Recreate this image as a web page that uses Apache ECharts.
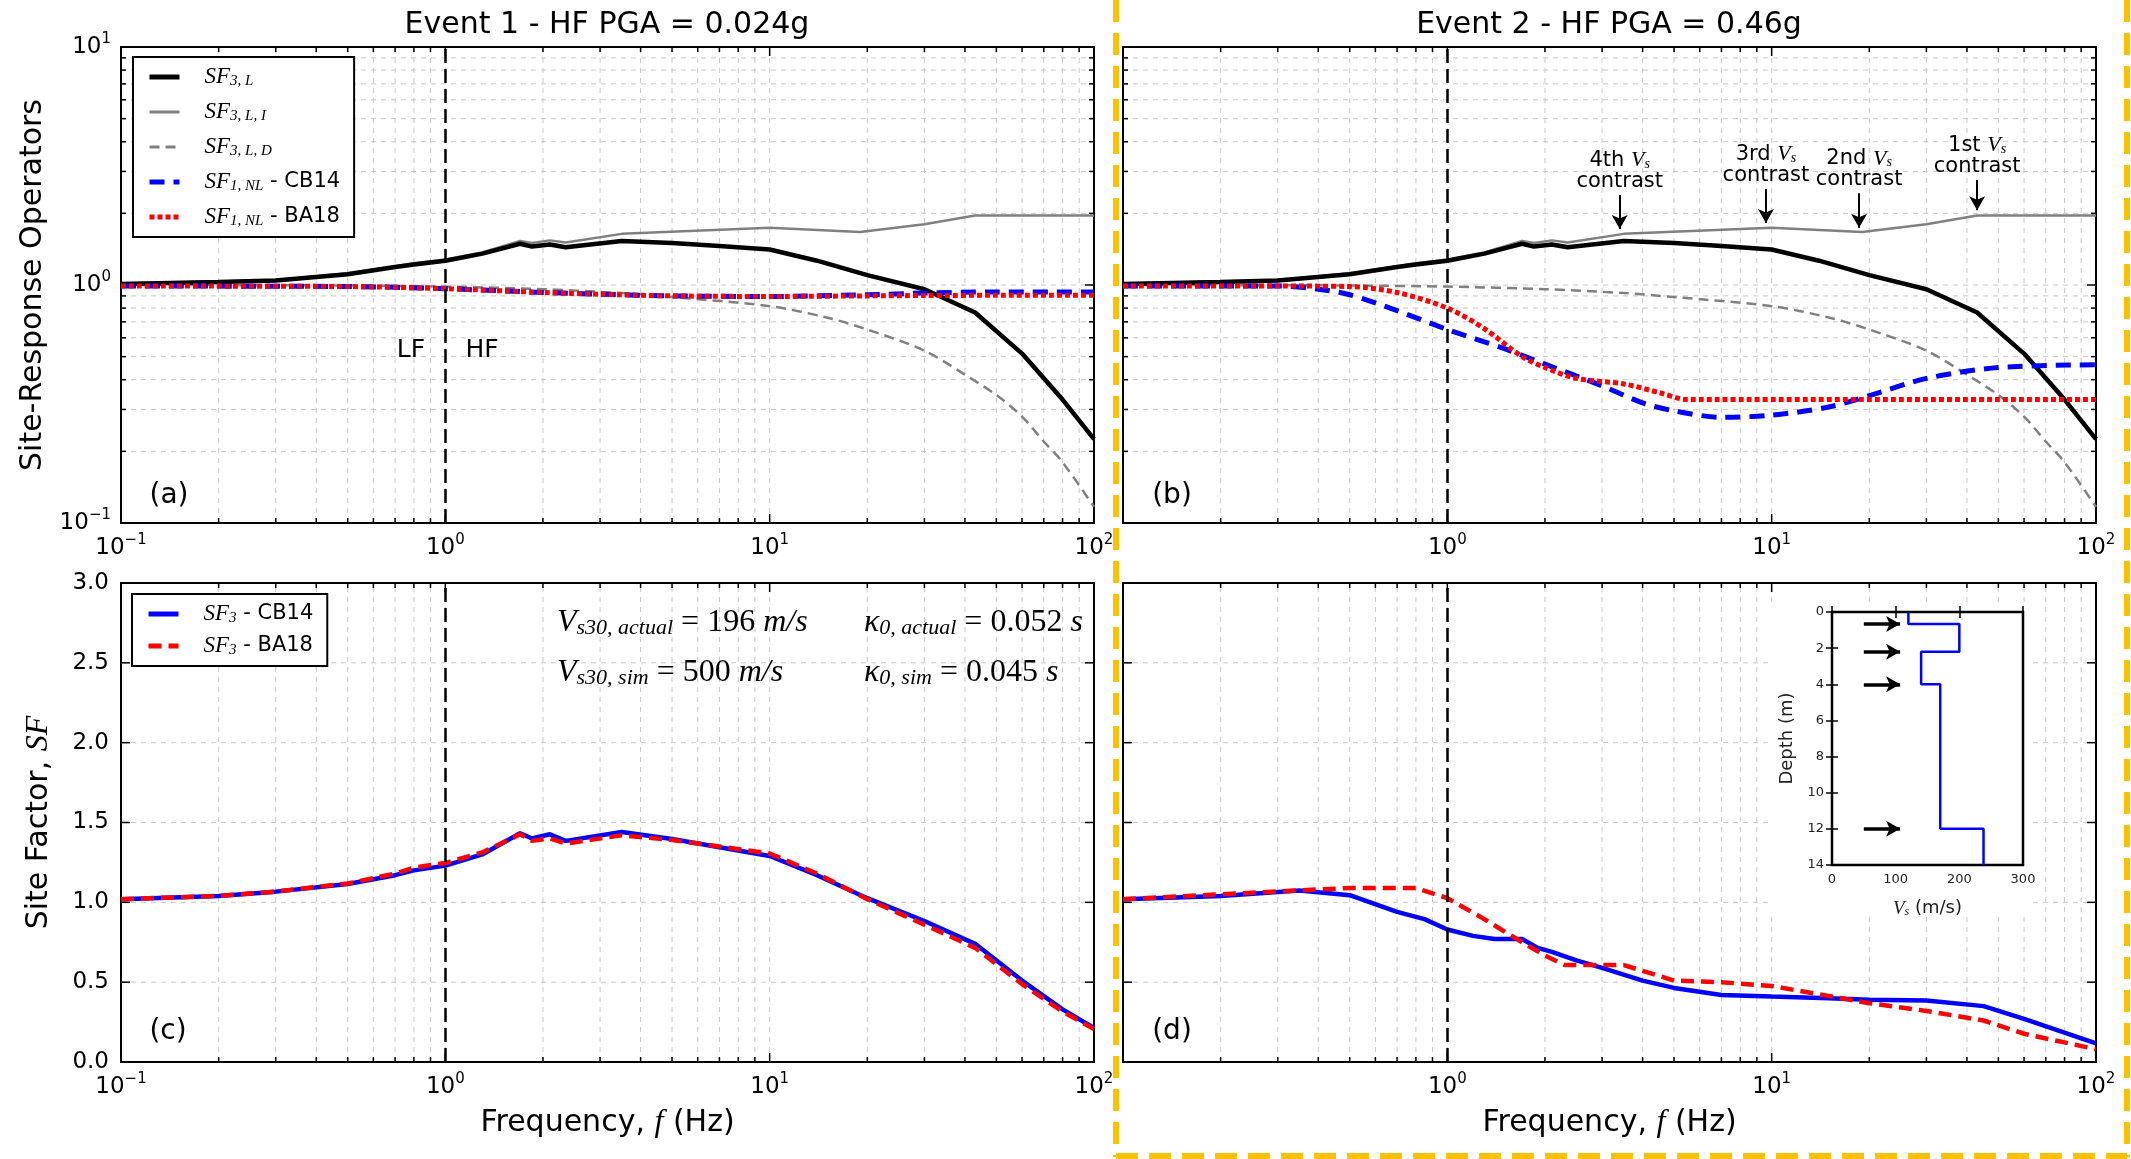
<!DOCTYPE html>
<html>
<head>
<meta charset="utf-8">
<title>Site-response operators</title>
<script src="https://cdn.jsdelivr.net/npm/echarts@6/dist/echarts.min.js"></script>
<style>
html, body { margin: 0; padding: 0; background: #fff; }
#main { width: 2131px; height: 1159px; }
</style>
</head>
<body>
<div id="main"></div>
<script>
// ---- values ----
// linear site operators (same in both events)
var fL = [0.1, 0.2, 0.3, 0.5, 0.7, 0.8, 1.0, 1.3, 1.7, 1.85, 2.1, 2.35, 3.5, 5, 7, 10, 14, 20, 30, 43, 60, 80, 100];
var sf3L = [1.01, 1.03, 1.045, 1.11, 1.19, 1.22, 1.265, 1.355, 1.49, 1.45, 1.48, 1.44, 1.53, 1.50, 1.46, 1.41, 1.265, 1.10, 0.96, 0.766, 0.515, 0.33, 0.225];
var fI = [0.1, 0.2, 0.3, 0.5, 0.7, 0.8, 1.0, 1.3, 1.7, 1.85, 2.1, 2.35, 3.5, 10, 19, 30, 43, 100];
var sf3LI = [1.015, 1.035, 1.05, 1.12, 1.2, 1.235, 1.28, 1.37, 1.53, 1.5, 1.54, 1.51, 1.64, 1.74, 1.67, 1.80, 1.96, 1.96];
var fD = [0.1, 0.3, 0.5, 1, 2, 3.5, 5, 10, 15, 20, 30, 40, 50, 60, 70, 80, 100];
var sf3LD = [1.0, 0.998, 0.995, 0.985, 0.96, 0.925, 0.89, 0.815, 0.73, 0.65, 0.53, 0.42, 0.345, 0.28, 0.22, 0.18, 0.117];

// nonlinear operators, event 1
var fN1 = [0.1, 0.5, 1, 2, 3, 5, 10, 20, 30, 50, 100];
var cb14Nl1 = [0.99, 0.985, 0.965, 0.93, 0.915, 0.90, 0.895, 0.91, 0.925, 0.935, 0.935];
var ba18Nl1 = [0.99, 0.985, 0.965, 0.93, 0.915, 0.90, 0.895, 0.90, 0.903, 0.905, 0.905];

// nonlinear operators, event 2
var fCB2 = [0.1, 0.2, 0.3, 0.4, 0.5, 0.7, 1.0, 1.5, 2, 3, 4, 5, 7, 10, 15, 20, 30, 50, 100];
var cb14Nl2 = [0.99, 0.99, 0.99, 0.96, 0.91, 0.78, 0.65, 0.54, 0.465, 0.377, 0.32, 0.296, 0.278, 0.284, 0.307, 0.343, 0.405, 0.45, 0.462];
var fBA2 = [0.1, 0.3, 0.5, 0.7, 1.0, 1.3, 1.7, 2, 2.5, 3.5, 4.5, 5.5, 100];
var ba18Nl2 = [0.99, 0.99, 0.985, 0.93, 0.80, 0.656, 0.50, 0.45, 0.405, 0.384, 0.353, 0.33, 0.33];

// site factors
var fC = [0.1, 0.2, 0.3, 0.5, 0.7, 0.8, 1.0, 1.3, 1.7, 1.85, 2.1, 2.35, 3.5, 5, 7, 10, 14, 20, 30, 43, 60, 80, 100];
var sfCB1 = [1.02, 1.04, 1.067, 1.115, 1.17, 1.20, 1.23, 1.30, 1.433, 1.40, 1.426, 1.385, 1.44, 1.397, 1.345, 1.29, 1.17, 1.026, 0.883, 0.74, 0.51, 0.33, 0.213];
var sfBA1 = [1.02, 1.04, 1.067, 1.118, 1.18, 1.218, 1.246, 1.313, 1.426, 1.385, 1.40, 1.368, 1.42, 1.39, 1.35, 1.306, 1.18, 1.02, 0.86, 0.715, 0.488, 0.316, 0.206];
var fDb = [0.1, 0.2, 0.35, 0.5, 0.7, 0.85, 1.0, 1.2, 1.4, 1.7, 1.9, 2.1, 2.5, 3, 4, 5, 7, 10, 15, 20, 30, 45, 60, 100];
var sfCB2 = [1.02, 1.04, 1.074, 1.045, 0.94, 0.895, 0.83, 0.79, 0.77, 0.77, 0.715, 0.69, 0.636, 0.59, 0.51, 0.464, 0.42, 0.41, 0.40, 0.39, 0.385, 0.35, 0.27, 0.117];
var fDr = [0.1, 0.35, 0.5, 0.8, 1.0, 1.3, 1.7, 2.0, 2.3, 3.5, 5, 7, 10, 20, 30, 45, 60, 100];
var sfBA2 = [1.02, 1.075, 1.09, 1.09, 1.026, 0.895, 0.75, 0.667, 0.607, 0.607, 0.51, 0.50, 0.476, 0.368, 0.32, 0.26, 0.177, 0.08];

// Vs profile (inset)
var layerTops = [0, 0.66, 2.2, 4, 12];
var layerBots = [0.66, 2.2, 4, 12, 14];
var layerVs = [120, 200, 140, 170, 238];
var arrowDepth = [0.66, 2.2, 4, 12];
var arrowFrom = 50, arrowTo = 107;

// Vs contrast annotations (panel b)
var contrastName = ['4th', '3rd', '2nd', '1st'];
var contrastF = [3.4, 9.6, 18.6, 43];
var contrastTail = [2.39, 2.53, 2.43, 2.76];
var contrastTip = [1.72, 1.82, 1.74, 2.06];

// ticks
var xMajor = [0.1, 1, 10, 100];
var xMinor = [0.2, 0.3, 0.4, 0.5, 0.6, 0.7, 0.8, 0.9, 2, 3, 4, 5, 6, 7, 8, 9, 20, 30, 40, 50, 60, 70, 80, 90];
var yLogMajor = [0.1, 1, 10];
var yLogMinor = [0.2, 0.3, 0.4, 0.5, 0.6, 0.7, 0.8, 0.9, 2, 3, 4, 5, 6, 7, 8, 9];
var yLinMajor = [0, 0.5, 1, 1.5, 2, 2.5, 3];

var SANS = '"DejaVu Sans"';
var SERIF = '"Liberation Serif"';

function pairs(f, v) {
  return f.map(function (x, i) { return [x, v[i]]; });
}

function line(name, idx, f, v, color, width, dash) {
  return {
    name: name, type: 'line', xAxisIndex: idx, yAxisIndex: idx,
    data: pairs(f, v), symbol: 'none', z: 3,
    lineStyle: { color: color, width: width, type: dash || 'solid' },
    itemStyle: { color: color }
  };
}

// grid lines + inside ticks on all four sides
function ticks(idx, dir, vals, major, xr, yr) {
  var lo = dir === 'x' ? xr[0] : yr[0], hi = dir === 'x' ? xr[1] : yr[1];
  return {
    type: 'custom', xAxisIndex: idx, yAxisIndex: idx, z: 1, silent: true,
    data: vals.map(function (v) { return dir === 'x' ? [v, yr[0]] : [xr[0], v]; }),
    encode: { x: 0, y: 1 },
    renderItem: function (params, api) {
      var v = api.value(dir === 'x' ? 0 : 1);
      if (v === lo || v === hi) return null;
      var a = dir === 'x' ? api.coord([v, yr[0]]) : api.coord([xr[0], v]);
      var b = dir === 'x' ? api.coord([v, yr[1]]) : api.coord([xr[1], v]);
      var L = major ? 9 : 5;
      var tk = { stroke: '#000', lineWidth: 1.5 };
      var kids = [{ type: 'line', shape: { x1: a[0], y1: a[1], x2: b[0], y2: b[1] },
        style: { stroke: '#c8c8c8', lineWidth: 1, lineDash: [5, 5] } }];
      if (dir === 'x') {
        kids.push({ type: 'line', shape: { x1: a[0], y1: a[1], x2: a[0], y2: a[1] - L }, style: tk });
        kids.push({ type: 'line', shape: { x1: b[0], y1: b[1], x2: b[0], y2: b[1] + L }, style: tk });
      } else {
        kids.push({ type: 'line', shape: { x1: a[0], y1: a[1], x2: a[0] + L, y2: a[1] }, style: tk });
        kids.push({ type: 'line', shape: { x1: b[0], y1: b[1], x2: b[0] - L, y2: b[1] }, style: tk });
      }
      return { type: 'group', children: kids };
    }
  };
}

function logLabel(v) {
  var e = Math.round(Math.log(v) / Math.LN10);
  return '{b|10}{p|' + (e < 0 ? '\u2212' + (-e) : e) + '}';
}
var logRich = {
  b: { fontFamily: SANS, fontSize: 23, lineHeight: 30, color: '#000' },
  p: { fontFamily: SANS, fontSize: 15, lineHeight: 15, verticalAlign: 'top', color: '#000' }
};

var mathRich = {
  t: { fontFamily: SANS, fontSize: 21, color: '#000' },
  m: { fontFamily: SERIF, fontStyle: 'italic', fontSize: 23, color: '#000' },
  s: { fontFamily: SERIF, fontStyle: 'italic', fontSize: 15, verticalAlign: 'bottom', lineHeight: 14, color: '#000' },
  g: { width: 20 }
};
var legendText = {
  'SF3L': '{g|}{m|SF}{s|3, L}',
  'SF3LI': '{g|}{m|SF}{s|3, L, I}',
  'SF3LD': '{g|}{m|SF}{s|3, L, D}',
  'CB14nl': '{g|}{m|SF}{s|1, NL}{t| - CB14}',
  'BA18nl': '{g|}{m|SF}{s|1, NL}{t| - BA18}',
  'CB14sf': '{g|}{m|SF}{s|3}{t| - CB14}',
  'BA18sf': '{g|}{m|SF}{s|3}{t| - BA18}'
};

var grids = [
  { left: 121, top: 47, width: 973, height: 476 },
  { left: 1123, top: 47, width: 973, height: 476 },
  { left: 121, top: 583, width: 973, height: 479 },
  { left: 1123, top: 583, width: 973, height: 479 },
  { left: 1832, top: 612, width: 191, height: 253 }
];
grids.forEach(function (g, i) {
  g.show = true; g.borderColor = '#000'; g.borderWidth = 2;
  g.backgroundColor = 'transparent';
  if (i === 4) { g.z = 6; g.borderWidth = 2.5; }
});

var xAxes = [0, 1, 2, 3].map(function (i) {
  var ax = {
    type: 'log', logBase: 10, min: 0.1, max: 100, gridIndex: i,
    axisLine: { show: false }, axisTick: { show: false }, splitLine: { show: false },
    axisLabel: { formatter: logLabel, rich: logRich, margin: 10, showMinLabel: i % 2 === 0 }
  };
  if (i >= 2) {
    ax.name = '{t|Frequency, }{i|f}{t| (Hz)}';
    ax.nameLocation = 'middle';
    ax.nameGap = 45;
    ax.nameTextStyle = { rich: {
      t: { fontFamily: SANS, fontSize: 30, color: '#000' },
      i: { fontFamily: SERIF, fontStyle: 'italic', fontSize: 32, color: '#000' }
    } };
  }
  return ax;
});
var insetTick = { show: true, inside: true, length: 6, lineStyle: { color: '#000', width: 1.5 } };
xAxes.push({
  type: 'value', min: 0, max: 300, interval: 100, gridIndex: 4, position: 'bottom', z: 6,
  axisLine: { show: false }, axisTick: insetTick, splitLine: { show: false },
  axisLabel: { fontFamily: SANS, fontSize: 13, color: '#222', margin: 8 },
  name: '{i|V}{s|s}{t| (m/s)}', nameLocation: 'middle', nameGap: 34,
  nameTextStyle: { rich: {
    t: { fontFamily: SANS, fontSize: 18, color: '#222' },
    i: { fontFamily: SERIF, fontStyle: 'italic', fontSize: 19, color: '#222' },
    s: { fontFamily: SERIF, fontStyle: 'italic', fontSize: 12, verticalAlign: 'bottom', lineHeight: 12, color: '#222' }
  } }
});
xAxes.push({
  type: 'value', min: 0, max: 300, interval: 100, gridIndex: 4, position: 'top', z: 6,
  axisLine: { show: false }, axisTick: insetTick, splitLine: { show: false }, axisLabel: { show: false }
});

var yAxes = [
  { type: 'log', logBase: 10, min: 0.1, max: 10, gridIndex: 0,
    axisLabel: { formatter: logLabel, rich: logRich, margin: 10 },
    name: 'Site-Response Operators', nameLocation: 'middle', nameGap: 73,
    nameTextStyle: { fontFamily: SANS, fontSize: 30, color: '#000' } },
  { type: 'log', logBase: 10, min: 0.1, max: 10, gridIndex: 1, axisLabel: { show: false } },
  { type: 'value', min: 0, max: 3, interval: 0.5, gridIndex: 2,
    axisLabel: { formatter: function (v) { return v.toFixed(1); }, fontFamily: SANS, fontSize: 23, color: '#000', margin: 12 },
    name: '{t|Site Factor, }{i|SF}', nameLocation: 'middle', nameGap: 66,
    nameTextStyle: { rich: {
      t: { fontFamily: SANS, fontSize: 30, color: '#000' },
      i: { fontFamily: SERIF, fontStyle: 'italic', fontSize: 32, color: '#000' }
    } } },
  { type: 'value', min: 0, max: 3, interval: 0.5, gridIndex: 3, axisLabel: { show: false } }
];
yAxes.forEach(function (a) {
  a.axisLine = { show: false }; a.axisTick = { show: false }; a.splitLine = { show: false };
});
yAxes.push({
  type: 'value', min: 0, max: 14, interval: 2, inverse: true, gridIndex: 4, position: 'left', z: 6,
  axisLine: { show: false }, axisTick: insetTick, splitLine: { show: false },
  axisLabel: { fontFamily: SANS, fontSize: 13, color: '#222', margin: 8 },
  name: 'Depth (m)', nameLocation: 'middle', nameGap: 36,
  nameTextStyle: { fontFamily: SANS, fontSize: 18, color: '#222' }
});
yAxes.push({
  type: 'value', min: 0, max: 14, interval: 2, inverse: true, gridIndex: 4, position: 'right', z: 6,
  axisLine: { show: false }, axisTick: insetTick, splitLine: { show: false }, axisLabel: { show: false }
});

var series = [];
var logX = [0.1, 100], logY = [0.1, 10], linY = [0, 3];
[0, 1].forEach(function (i) {
  series.push(ticks(i, 'x', xMajor, true, logX, logY));
  series.push(ticks(i, 'x', xMinor, false, logX, logY));
  series.push(ticks(i, 'y', yLogMajor, true, logX, logY));
  series.push(ticks(i, 'y', yLogMinor, false, logX, logY));
});
[2, 3].forEach(function (i) {
  series.push(ticks(i, 'x', xMajor, true, logX, linY));
  series.push(ticks(i, 'x', xMinor, false, logX, linY));
  series.push(ticks(i, 'y', yLinMajor, true, logX, linY));
});

var lfhf = {
  silent: true, symbol: ['none', 'none'], label: { show: false },
  lineStyle: { color: '#000', width: 2.5, type: [14, 6] },
  data: [{ xAxis: 1 }]
};

// panels a and b
var nl = [[fN1, cb14Nl1, fN1, ba18Nl1], [fCB2, cb14Nl2, fBA2, ba18Nl2]];
[0, 1].forEach(function (i) {
  var d = line('SF3LD', i, fD, sf3LD, '#808080', 2.5, [10, 6]);
  d.markLine = lfhf;
  d.smooth = 0.3;
  series.push(d);
  var g = line('SF3LI', i, fI, sf3LI, '#808080', 2.5);
  series.push(g);
  series.push(line('SF3L', i, fL, sf3L, '#000', 4.5));
  var cb = line('CB14nl', i, nl[i][0], nl[i][1], '#0000ff', 5, [15, 9]);
  cb.smooth = 0.3;
  series.push(cb);
  var ba = line('BA18nl', i, nl[i][2], nl[i][3], '#ff0000', 5, [5, 3]);
  ba.smooth = 0.3;
  series.push(ba);
  if (i === 1) {
    g.markLine = {
      silent: true, symbol: ['none', 'arrow'], symbolSize: [12, 14],
      lineStyle: { color: '#000', width: 2, type: 'solid' },
      label: {
        show: true, position: 'start', distance: 3, color: '#000', align: 'center',
        formatter: function (p) { return '{t|' + p.name + ' }{i|V}{s|s}\n{t|contrast}'; },
        rich: {
          t: { fontFamily: SANS, fontSize: 21, lineHeight: 21, color: '#000' },
          i: { fontFamily: SERIF, fontStyle: 'italic', fontSize: 22, lineHeight: 21, color: '#000' },
          s: { fontFamily: SERIF, fontStyle: 'italic', fontSize: 14, lineHeight: 14, verticalAlign: 'bottom', color: '#000' }
        }
      },
      data: contrastF.map(function (f, k) {
        return [{ coord: [f, contrastTail[k]], name: contrastName[k] }, { coord: [f, contrastTip[k]] }];
      })
    };
  }
});

// panels c and d
var sf = [[fC, sfCB1, fC, sfBA1], [fDb, sfCB2, fDr, sfBA2]];
[2, 3].forEach(function (i) {
  var s = sf[i - 2];
  var cb = line('CB14sf', i, s[0], s[1], '#0000ff', 4.5);
  cb.markLine = lfhf;
  series.push(cb);
  series.push(line('BA18sf', i, s[2], s[3], '#ff0000', 4.5, [13, 7]));
});

// inset Vs profile
var vsPts = [];
layerVs.forEach(function (v, k) {
  vsPts.push([v, layerTops[k]]);
  vsPts.push([v, layerBots[k]]);
});
series.push({
  type: 'custom', xAxisIndex: 4, yAxisIndex: 4, z: 5, silent: true,
  data: [[0, 0]],
  renderItem: function (params, api) {
    var r = params.coordSys;
    return { type: 'rect', shape: { x: r.x - 64, y: r.y - 9, width: r.width + 71, height: r.height + 59 },
      style: { fill: '#fff' } };
  }
});
series.push({
  name: 'Vs', type: 'line', xAxisIndex: 4, yAxisIndex: 4, z: 7, symbol: 'none',
  data: vsPts, lineStyle: { color: '#0000ff', width: 2.5 },
  markLine: {
    silent: true, symbol: ['none', 'arrow'], symbolSize: [12, 14], z: 7,
    label: { show: false },
    lineStyle: { color: '#000', width: 3.5, type: 'solid' },
    data: arrowDepth.map(function (d) { return [{ coord: [arrowFrom, d] }, { coord: [arrowTo, d] }]; })
  }
});

function legendBox(names, widths, left, top, gap) {
  return {
    data: names.map(function (n, k) { return { name: n, lineStyle: { width: widths[k] } }; }),
    orient: 'vertical', left: left, top: top,
    itemWidth: 30, itemHeight: 14, itemGap: gap, padding: [8, 14, 8, 14],
    backgroundColor: '#fff', borderColor: '#000', borderWidth: 2, borderRadius: 0,
    selectedMode: false, z: 4,
    itemStyle: { opacity: 0 },
    formatter: function (n) { return legendText[n]; },
    textStyle: { color: '#000', fontSize: 21, lineHeight: 24, rich: mathRich }
  };
}

function txt(x, y, text, size, extra) {
  var st = { text: text, fontFamily: SANS, fontSize: size, fill: '#000', align: 'center', verticalAlign: 'middle' };
  for (var k in extra) st[k] = extra[k];
  return { type: 'text', x: x, y: y, z: 20, style: st };
}
var annRich = {
  i: { fontFamily: SERIF, fontStyle: 'italic', fontSize: 32, color: '#000' },
  r: { fontFamily: SERIF, fontSize: 32, color: '#000' },
  s: { fontFamily: SERIF, fontStyle: 'italic', fontSize: 22, verticalAlign: 'bottom', lineHeight: 19, color: '#000' }
};
var orange = { stroke: '#FFC000', lineWidth: 6, lineDash: [22, 11] };

var myChart = echarts.init(document.getElementById('main'));
var option = {
  animation: false,
  backgroundColor: '#fff',
  grid: grids,
  xAxis: xAxes,
  yAxis: yAxes,
  legend: [
    legendBox(['SF3L', 'SF3LI', 'SF3LD', 'CB14nl', 'BA18nl'], [5, 3, 3, 5, 5], 133, 57, 11),
    legendBox(['CB14sf', 'BA18sf'], [5, 5], 132, 594, 8)
  ],
  series: series,
  graphic: [
    txt(607, 25, 'Event 1 - HF PGA = 0.024g', 30),
    txt(1609, 25, 'Event 2 - HF PGA = 0.46g', 30),
    txt(169, 496, '(a)', 28),
    txt(1172, 496, '(b)', 28),
    txt(168, 1032, '(c)', 28),
    txt(1172, 1032, '(d)', 28),
    txt(411, 350, 'LF', 25),
    txt(482, 350, 'HF', 25),
    txt(557, 623, '{i|V}{s|s30, actual}{r| = 196 }{i|m/s}', 32, { align: 'left', rich: annRich }),
    txt(557, 673, '{i|V}{s|s30, sim}{r| = 500 }{i|m/s}', 32, { align: 'left', rich: annRich }),
    txt(864, 623, '{i|\u03ba}{s|0, actual}{r| = 0.052 }{i|s}', 32, { align: 'left', rich: annRich }),
    txt(864, 673, '{i|\u03ba}{s|0, sim}{r| = 0.045 }{i|s}', 32, { align: 'left', rich: annRich }),
    { type: 'line', z: 30, shape: { x1: 1116, y1: 0, x2: 1116, y2: 1157 }, style: orange },
    { type: 'line', z: 30, shape: { x1: 2127, y1: 0, x2: 2127, y2: 1157 }, style: orange },
    { type: 'line', z: 30, shape: { x1: 1116, y1: 1156, x2: 2127, y2: 1156 }, style: orange }
  ]
};
myChart.setOption(option);
window.addEventListener('resize', function () {
  myChart.resize();
});
</script>
</body>
</html>
